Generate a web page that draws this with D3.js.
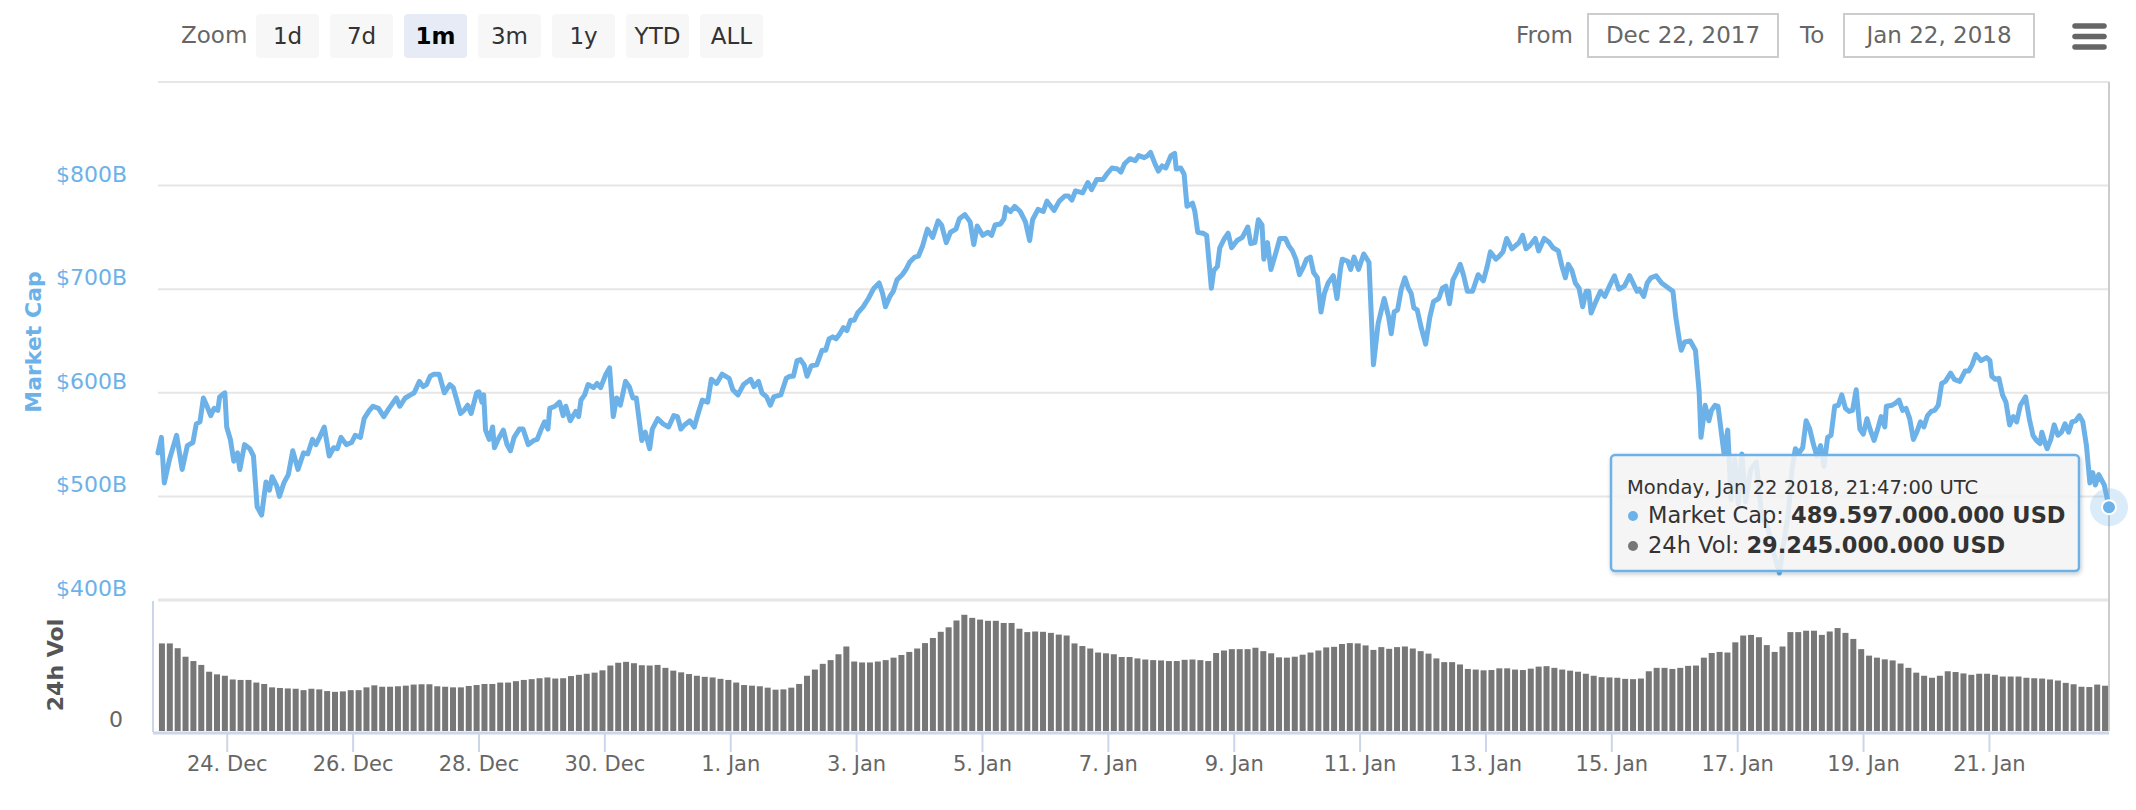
<!DOCTYPE html>
<html>
<head>
<meta charset="utf-8">
<script src="https://cdn.jsdelivr.net/npm/d3@7"></script>
<style>
  body { margin: 0; background: #fff; }
  text { font-family: "DejaVu Sans", sans-serif; }
</style>
</head>
<body>
<div id="chart"></div>
<script>
// Range shown by the "1m" zoom (UTC)
const startTime = Date.UTC(2017, 11, 22, 21, 47);
const endTime = Date.UTC(2018, 0, 22, 21, 47);

// Market cap in $B: [hours after startTime, value]
const marketCap = [
  [0,542],[1.3,557],[2.4,513],[4.4,536],[7.1,559],[9.2,526],[11.2,549],[13.3,552],[14.6,570],[16.0,572],
  [17.3,595],[18.7,587],[20.1,578],[21.4,585],[22.8,583],[23.5,596],[25.5,600],[26.2,567],[27.6,555],[28.9,534],
  [30.3,542],[31.2,526],[33.0,550],[35.0,546],[36.4,539],[37.8,490],[39.5,482],[41.2,514],[42.5,506],[43.5,519],
  [45.3,510],[46.3,500],[48.0,513],[49.7,521],[51.4,544],[53.4,526],[55.5,542],[57.1,541],[58.9,555],[60.2,550],
  [61.6,557],[63.4,567],[65.3,539],[67.0,547],[68.4,546],[69.8,557],[71.8,550],[73.8,552],[75.2,559],[77.2,557],
  [78.6,575],[80.6,583],[82.0,587],[84.1,585],[86.1,577],[88.1,585],[90.9,595],[92.2,587],[94.3,595],[96.3,598],
  [97.7,600],[99.7,611],[101.1,606],[102.4,608],[103.8,616],[105.2,618],[107.2,618],[109.2,600],[111.3,608],[112.6,605],
  [115.4,580],[116.7,583],[118.1,588],[119.4,580],[121.5,600],[122.4,601],[123.5,591],[124.2,598],[124.9,564],[126.3,555],
  [127.6,567],[128.3,547],[129.7,555],[131.7,564],[133.1,550],[134.4,544],[135.8,557],[137.8,565],[139.2,565],[141.2,550],
  [143.3,554],[144.6,555],[146.0,564],[147.4,572],[148.7,565],[149.4,585],[151.4,587],
  [153.1,591],[154.5,578],[155.5,587],[157.2,573],[159.3,582],[160.4,577],[161.3,593],[162.7,598],[164.0,608],[166.1,605],
  [167.4,609],[168.8,605],[170.8,618],[172.2,624],[173.6,577],[174.9,595],[176.3,588],[178.3,611],[179.7,606],[181.1,595],
  [182.4,595],[184.5,554],[185.8,562],[187.5,546],[188.5,565],[190.6,575],[192.6,570],[194.7,567],[196.7,578],[198.1,577],
  [199.4,565],[200.8,569],[202.8,573],[204.5,567],[206.2,582],[207.6,593],[209.6,591],[211.0,613],[213.0,609],[215.1,618],
  [217.8,614],[219.2,603],[221.2,598],[223.3,608],[226.0,613],[227.3,606],[229.0,611],[230.3,600],[232.1,596],[233.5,588],
  [234.8,596],[237.5,598],[239.6,614],[241.0,616],[242.3,616],[243.7,631],[245.0,632],[246.4,627],[247.5,616],[249.1,626],
  [251.2,627],[253.2,641],[254.6,641],[255.9,652],[257.3,654],[258.6,652],[260.0,657],[261.4,663],[262.7,660],[264.1,670],
  [265.5,670],[266.8,677],[268.9,683],[270.9,691],[273.0,701],[275.0,706],[276.3,696],[277.4,683],[279.1,693],[280.4,698],
  [281.8,709],[283.8,714],[285.2,719],[286.6,726],[288.6,731],[290.0,732],[291.6,742],[293.4,758],[295.4,750],[297.5,766],
  [298.8,762],[300.6,745],[302.2,755],[304.3,758],[305.6,768],[307.7,772],[309.7,765],[311.1,743],[312.4,761],[314.5,752],
  [316.5,755],[317.9,752],[319.2,762],[321.3,763],[322.6,768],[323.3,779],[325.1,775],[326.7,780],[328.8,775],[330.8,765],
  [332.4,747],[333.5,767],[335.6,777],[337.6,775],[339.0,785],[341.7,776],[343.7,785],[345.8,790],[347.1,790],[348.5,786],
  [349.9,795],[352.6,793],[354.6,803],[356.0,796],[358.0,806],
  [360.4,806],[361.8,811],[363.8,817],[365.9,816],[367.2,813],[368.6,821],[370.6,826],[372.7,824],[374.0,829],[376.1,827],
  [377.4,829],[378.5,832],[380.2,821],[381.5,814],[382.9,819],[384.3,817],[386.3,829],[387.7,831],[388.3,816],[390.0,817],
  [391.3,811],[392.4,780],[394.5,783],[395.4,775],[396.5,755],[398.5,754],[399.9,752],[401.7,701],[402.6,718],[404.0,722],
  [404.9,740],[406.7,749],[408.1,754],[409.4,740],[411.5,747],[413.5,750],[415.6,760],[416.7,744],[418.3,745],[419.6,767],
  [421.0,762],[421.7,729],[423.1,745],[424.4,719],[426.5,737],[427.8,749],[429.9,749],[431.2,742],[432.6,737],[433.9,729],
  [435.3,714],[436.7,721],[438.0,729],[439.4,731],[440.7,716],[442.1,711],[443.5,678],[444.8,696],[446.2,706],[448.2,713],
  [449.6,691],[450.9,719],[451.6,729],[453.7,727],[454.8,719],[456.1,731],[457.8,719],[459.8,734],[461.8,726],[463.5,627],
  [465.3,667],[467.6,691],[469.3,673],[470.3,657],[471.4,678],[472.7,680],[474.1,700],[475.5,711],[476.8,701],[477.9,696],
  [478.9,682],[480.2,680],[481.6,664],[483.4,647],[485.0,673],[486.4,688],[488.4,691],[489.8,701],[491.1,703],[492.5,686],
  [493.8,709],[495.2,716],[496.6,724],[497.9,713],[499.3,698],[501.3,698],[503.4,714],[505.4,708],[506.8,721],[508.1,736],
  [510.2,729],[511.5,732],[512.9,736],[514.3,749],[516.3,739],[517.7,742],[519.0,745],[520.4,752],[521.7,739],[523.1,742],
  [525.2,749],[526.5,737],[528.6,749],[530.6,745],[532.0,740],[534.0,737],[535.4,722],[536.7,711],[537.8,724],[539.2,718],
  [540.5,706],[541.9,701],[543.3,683],[544.6,698],[545.6,698],[546.5,677],[548.3,688],[550.1,698],[551.7,693],[553.7,704],
  [555.4,713],[557.1,700],[559.2,703],[561.2,713],[564.0,698],
  [564.9,700],[566.6,693],[567.9,706],[569.3,711],[571.3,713],[573.4,706],[576.1,701],[577.7,698],[578.8,673],[580.2,650],
  [580.9,641],[582.2,649],[584.3,650],[586.3,641],[587.7,601],[588.4,557],[590.0,588],[591.4,573],[592.4,583],[593.8,588],
  [594.9,587],[595.8,569],[597.2,541],[598.6,564],[599.9,497],[601.3,536],[602.6,493],[604.0,541],[605.4,495],[607.4,526],
  [609.5,533],[611.5,483],[614.2,467],[616.3,444],[618.3,426],[619.7,451],[621.7,483],[623.1,526],[624.4,546],[625.8,542],
  [627.2,547],[628.5,573],[629.9,565],[631.2,551],[632.6,539],[634.0,549],[635.3,529],[636.7,557],[638.0,559],[639.4,587],
  [640.8,588],[642.1,598],[643.5,585],[644.9,582],[646.2,583],[647.6,603],[649.0,565],[650.3,560],[651.7,575],[653.0,564],
  [654.4,554],[655.8,565],[657.1,577],[658.5,567],[659.1,587],[661.2,588],[662.6,590],[663.9,593],[665.3,583],[666.6,585],
  [668.0,575],[669.4,555],[670.7,562],[672.1,572],[673.4,567],[674.8,578],[676.2,582],[677.5,583],[678.9,588],[680.2,609],
  [681.6,611],[683.6,619],[685.0,613],[687.1,611],[689.1,621],[690.5,621],[691.8,627],[693.2,637],[695.2,631],[697.3,634],
  [698.6,631],[699.3,616],[700.7,613],[702.0,614],[703.4,598],[704.7,591],[706.1,569],[707.5,577],[708.8,572],[710.2,588],
  [712.2,596],[713.6,575],[715.0,559],[716.3,554],[717.7,551],[718.4,562],[719.7,551],[720.4,546],[721.8,555],[723.1,569],
  [724.5,559],[725.9,562],[727.2,570],[728.6,562],[729.9,572],[731.3,573],[732.7,578],[734.0,572],[735.4,549],[736.7,513],
  [737.8,523],[738.8,511],[740.1,521],[742.2,511],[744.0,489.597]
];

// 24h volume in $B, one bar per 3 hour slot
const volStepHours = 3;
const volume = [
  56.6,56.6,53.5,48.0,45.2,42.7,38.3,36.6,35.7,33.3,
  33.0,33.0,31.3,30.4,28.2,27.8,27.5,27.3,26.4,27.3,
  26.9,25.8,25.3,25.6,26.4,26.4,28.2,29.5,28.6,28.6,
  28.9,29.3,30.0,30.2,30.2,28.9,28.6,28.2,28.2,29.1,
  29.7,30.4,30.4,31.3,31.3,32.2,33.0,33.5,34.1,34.6,
  33.9,34.1,35.5,36.3,37.0,37.7,39.2,42.3,44.1,44.7,
  43.8,42.5,42.3,42.7,40.8,39.0,37.9,36.8,35.7,35.0,
  34.6,33.7,33.0,31.3,29.7,29.3,28.9,28.0,26.7,26.9,
  28.0,30.4,35.7,39.7,43.4,45.8,49.6,54.6,44.9,44.3,
  44.3,44.9,45.8,47.4,49.1,51.1,53.3,56.8,60.1,64.1,
  67.0,71.4,75.1,73.1,72.0,71.2,71.2,69.8,69.8,66.1,
  63.9,64.3,64.1,63.4,62.3,61.7,56.6,54.9,53.3,50.7,
  50.2,49.6,47.8,47.8,46.9,46.2,45.8,45.6,45.2,45.2,
  46.0,46.2,45.8,45.2,50.4,52.0,52.9,52.9,52.9,53.8,
  51.6,50.2,47.6,47.4,48.0,49.3,50.7,52.0,54.0,54.4,
  56.2,56.8,56.6,55.3,52.4,54.2,53.1,54.2,54.6,53.3,
  51.6,50.0,46.9,44.5,44.5,43.0,40.1,39.7,39.2,39.4,
  40.5,40.5,39.7,39.4,40.3,41.6,41.9,40.8,39.7,39.0,
  38.3,37.0,35.7,34.8,34.6,34.4,33.7,33.5,33.9,38.6,
  40.8,40.8,40.1,40.8,42.1,42.3,47.4,50.4,51.1,50.7,
  57.3,61.7,62.1,60.6,55.5,51.1,54.6,63.9,63.9,64.8,
  64.8,62.1,64.3,66.5,63.4,59.5,52.9,48.7,47.4,46.3,
  45.6,43.6,40.8,37.7,35.7,34.4,35.7,38.6,38.1,37.2,
  36.3,37.0,37.0,36.3,35.2,35.2,35.2,34.4,34.1,33.9,
  33.3,32.6,31.1,30.2,28.6,28.4,30.0,29.245
];

// Axis ticks
const capGrid = [400, 500, 600, 700, 800, 900];
const capTicks = [400, 500, 600, 700, 800];
const dateTicks = ["2017-12-24","2017-12-26","2017-12-28","2017-12-30","2018-01-01","2018-01-03","2018-01-05",
  "2018-01-07","2018-01-09","2018-01-11","2018-01-13","2018-01-15","2018-01-17","2018-01-19","2018-01-21"];
const zoomButtons = ["1d", "7d", "1m", "3m", "1y", "YTD", "ALL"];
const selectedZoom = "1m";

const capColor = "#6cb2e8";
const volColor = "#777777";
const hour = 3600 * 1000;

const svg = d3.select("#chart").append("svg")
    .attr("width", 2136)
    .attr("height", 810);

// Scales
const x = d3.scaleUtc().domain([startTime, endTime]).range([158, 2109]);
const y = d3.scaleLinear().domain([400, 900]).range([600, 82]);
const yVol = d3.scaleLinear().domain([0, 84]).range([731, 601]);

// Gridlines of the market cap pane
svg.append("g").selectAll("line")
    .data(capGrid)
    .enter().append("line")
    .attr("x1", 158).attr("x2", 2109)
    .attr("y1", d => y(d)).attr("y2", d => y(d))
    .attr("stroke", "#e6e6e6")
    .attr("stroke-width", d => d === 400 ? 3 : 2);

// Market cap labels
svg.append("g").selectAll("text")
    .data(capTicks)
    .enter().append("text")
    .attr("x", 127)
    .attr("y", d => y(d) - 4)
    .attr("text-anchor", "end")
    .style("font-size", "22px")
    .attr("fill", capColor)
    .text(d => `$${d}B`);

svg.append("text")
    .attr("transform", "translate(33,342) rotate(-90)")
    .attr("text-anchor", "middle")
    .attr("dy", "0.35em")
    .style("font-size", "22px")
    .style("font-weight", "bold")
    .attr("fill", capColor)
    .text("Market Cap");

// Volume pane axis
svg.append("line")
    .attr("x1", 153).attr("x2", 153)
    .attr("y1", 601).attr("y2", 732)
    .attr("stroke", "#ccd6eb").attr("stroke-width", 2);

svg.append("text")
    .attr("x", 123)
    .attr("y", yVol(0) - 4)
    .attr("text-anchor", "end")
    .style("font-size", "22px")
    .attr("fill", "#666")
    .text("0");

svg.append("text")
    .attr("transform", "translate(55,665) rotate(-90)")
    .attr("text-anchor", "middle")
    .attr("dy", "0.35em")
    .style("font-size", "22px")
    .style("font-weight", "bold")
    .attr("fill", "#555")
    .text("24h Vol");

// Crosshair at the hovered point
svg.append("line")
    .attr("x1", x(endTime)).attr("x2", x(endTime))
    .attr("y1", 82).attr("y2", 731)
    .attr("stroke", "#cccccc").attr("stroke-width", 2);

// Volume bars
svg.append("g").selectAll("rect")
    .data(volume)
    .enter().append("rect")
    .attr("x", (d, i) => x(startTime + (i * volStepHours + volStepHours / 2) * hour) - 3)
    .attr("width", 6)
    .attr("y", d => yVol(d))
    .attr("height", d => yVol(0) - yVol(d))
    .attr("fill", volColor);

// X axis
const xAxis = svg.append("g")
    .attr("transform", "translate(0,733)")
    .call(d3.axisBottom(x)
        .tickValues(dateTicks.map(d => new Date(d + "T00:00:00Z")))
        .tickFormat(d3.utcFormat("%-d. %b"))
        .tickSize(19)
        .tickSizeOuter(0)
        .tickPadding(4));
xAxis.select(".domain").remove();
xAxis.selectAll(".tick line").attr("stroke", "#ccd6eb").attr("stroke-width", 2);
xAxis.selectAll(".tick text")
    .attr("fill", "#666")
    .style("font-size", "21px")
    .style("font-family", "'DejaVu Sans', sans-serif");

svg.append("line")
    .attr("x1", 153).attr("x2", 2109)
    .attr("y1", 733).attr("y2", 733)
    .attr("stroke", "#ccd6eb").attr("stroke-width", 3);

// Market cap line
const line = d3.line()
    .x(d => x(startTime + d[0] * hour))
    .y(d => y(d[1]));

svg.append("path")
    .datum(marketCap)
    .attr("d", line)
    .attr("fill", "none")
    .attr("stroke", capColor)
    .attr("stroke-width", 5)
    .attr("stroke-linejoin", "round")
    .attr("stroke-linecap", "round");

// Hovered point marker
const last = marketCap[marketCap.length - 1];
const lastX = x(startTime + last[0] * hour);
svg.append("circle")
    .attr("cx", lastX).attr("cy", y(last[1])).attr("r", 19)
    .attr("fill", capColor).attr("opacity", 0.25);
svg.append("circle")
    .attr("cx", lastX).attr("cy", y(last[1])).attr("r", 7)
    .attr("fill", capColor).attr("stroke", "#fff").attr("stroke-width", 2);

// Tooltip
const defs = svg.append("defs");
defs.append("filter").attr("id", "shadow")
    .attr("x", "-10%").attr("y", "-10%").attr("width", "120%").attr("height", "130%")
    .append("feDropShadow")
    .attr("dx", 1).attr("dy", 2).attr("stdDeviation", 2)
    .attr("flood-color", "#000").attr("flood-opacity", 0.22);

const usd = d3.formatLocale({ decimal: ",", thousands: ".", grouping: [3], currency: ["", ""] }).format(",d");
const tip = svg.append("g");
tip.append("rect")
    .attr("x", 1611).attr("y", 455)
    .attr("width", 468).attr("height", 116)
    .attr("rx", 4)
    .attr("fill", "rgba(247,247,247,0.85)")
    .attr("stroke", capColor).attr("stroke-width", 2.5)
    .attr("filter", "url(#shadow)");

tip.append("text")
    .attr("x", 1627).attr("y", 494)
    .style("font-size", "19.5px")
    .attr("fill", "#333")
    .text(d3.utcFormat("%A, %b %d %Y, %H:%M:%S UTC")(endTime));

const tipRows = [
    { name: "Market Cap", value: last[1], color: capColor, y: 523 },
    { name: "24h Vol", value: volume[volume.length - 1], color: volColor, y: 553 }
];
tipRows.forEach(function(r) {
    tip.append("circle")
        .attr("cx", 1633).attr("cy", r.y - 7).attr("r", 5)
        .attr("fill", r.color);
    const t = tip.append("text")
        .attr("x", 1648).attr("y", r.y)
        .style("font-size", "22.5px")
        .attr("fill", "#333");
    t.append("tspan").text(`${r.name}:\u00a0`);
    t.append("tspan")
        .style("font-weight", "bold")
        .text(`${usd(Math.round(r.value * 1e9))} USD`);
});

// Range selector
svg.append("text")
    .attr("x", 181).attr("y", 43)
    .style("font-size", "23px")
    .attr("fill", "#666")
    .text("Zoom");

const buttons = svg.append("g").selectAll("g")
    .data(zoomButtons)
    .enter().append("g")
    .attr("transform", (d, i) => `translate(${256 + i * 74},14)`);

buttons.append("rect")
    .attr("width", 63).attr("height", 44).attr("rx", 4)
    .attr("fill", d => d === selectedZoom ? "#e6ebf5" : "#f7f7f7");

buttons.append("text")
    .attr("x", 31.5).attr("y", 30)
    .attr("text-anchor", "middle")
    .style("font-size", "23px")
    .style("font-weight", d => d === selectedZoom ? "bold" : "normal")
    .attr("fill", d => d === selectedZoom ? "#000" : "#333")
    .text(d => d);

// From / To inputs
const inputFmt = d3.utcFormat("%b %d, %Y");
const inputs = [
    { label: "From", lx: 1516, bx: 1588, date: startTime },
    { label: "To", lx: 1800, bx: 1844, date: endTime }
];
inputs.forEach(function(d) {
    svg.append("text")
        .attr("x", d.lx).attr("y", 43)
        .style("font-size", "23px")
        .attr("fill", "#666")
        .text(d.label);
    svg.append("rect")
        .attr("x", d.bx).attr("y", 14)
        .attr("width", 190).attr("height", 43)
        .attr("fill", "#fff")
        .attr("stroke", "#cccccc").attr("stroke-width", 2);
    svg.append("text")
        .attr("x", d.bx + 95).attr("y", 43)
        .attr("text-anchor", "middle")
        .style("font-size", "23px")
        .attr("fill", "#666")
        .text(inputFmt(d.date));
});

// Context menu icon
svg.append("g").selectAll("line")
    .data([26, 36.5, 47])
    .enter().append("line")
    .attr("x1", 2075).attr("x2", 2104)
    .attr("y1", d => d).attr("y2", d => d)
    .attr("stroke", "#666").attr("stroke-width", 5.5)
    .attr("stroke-linecap", "round");
</script>
</body>
</html>
